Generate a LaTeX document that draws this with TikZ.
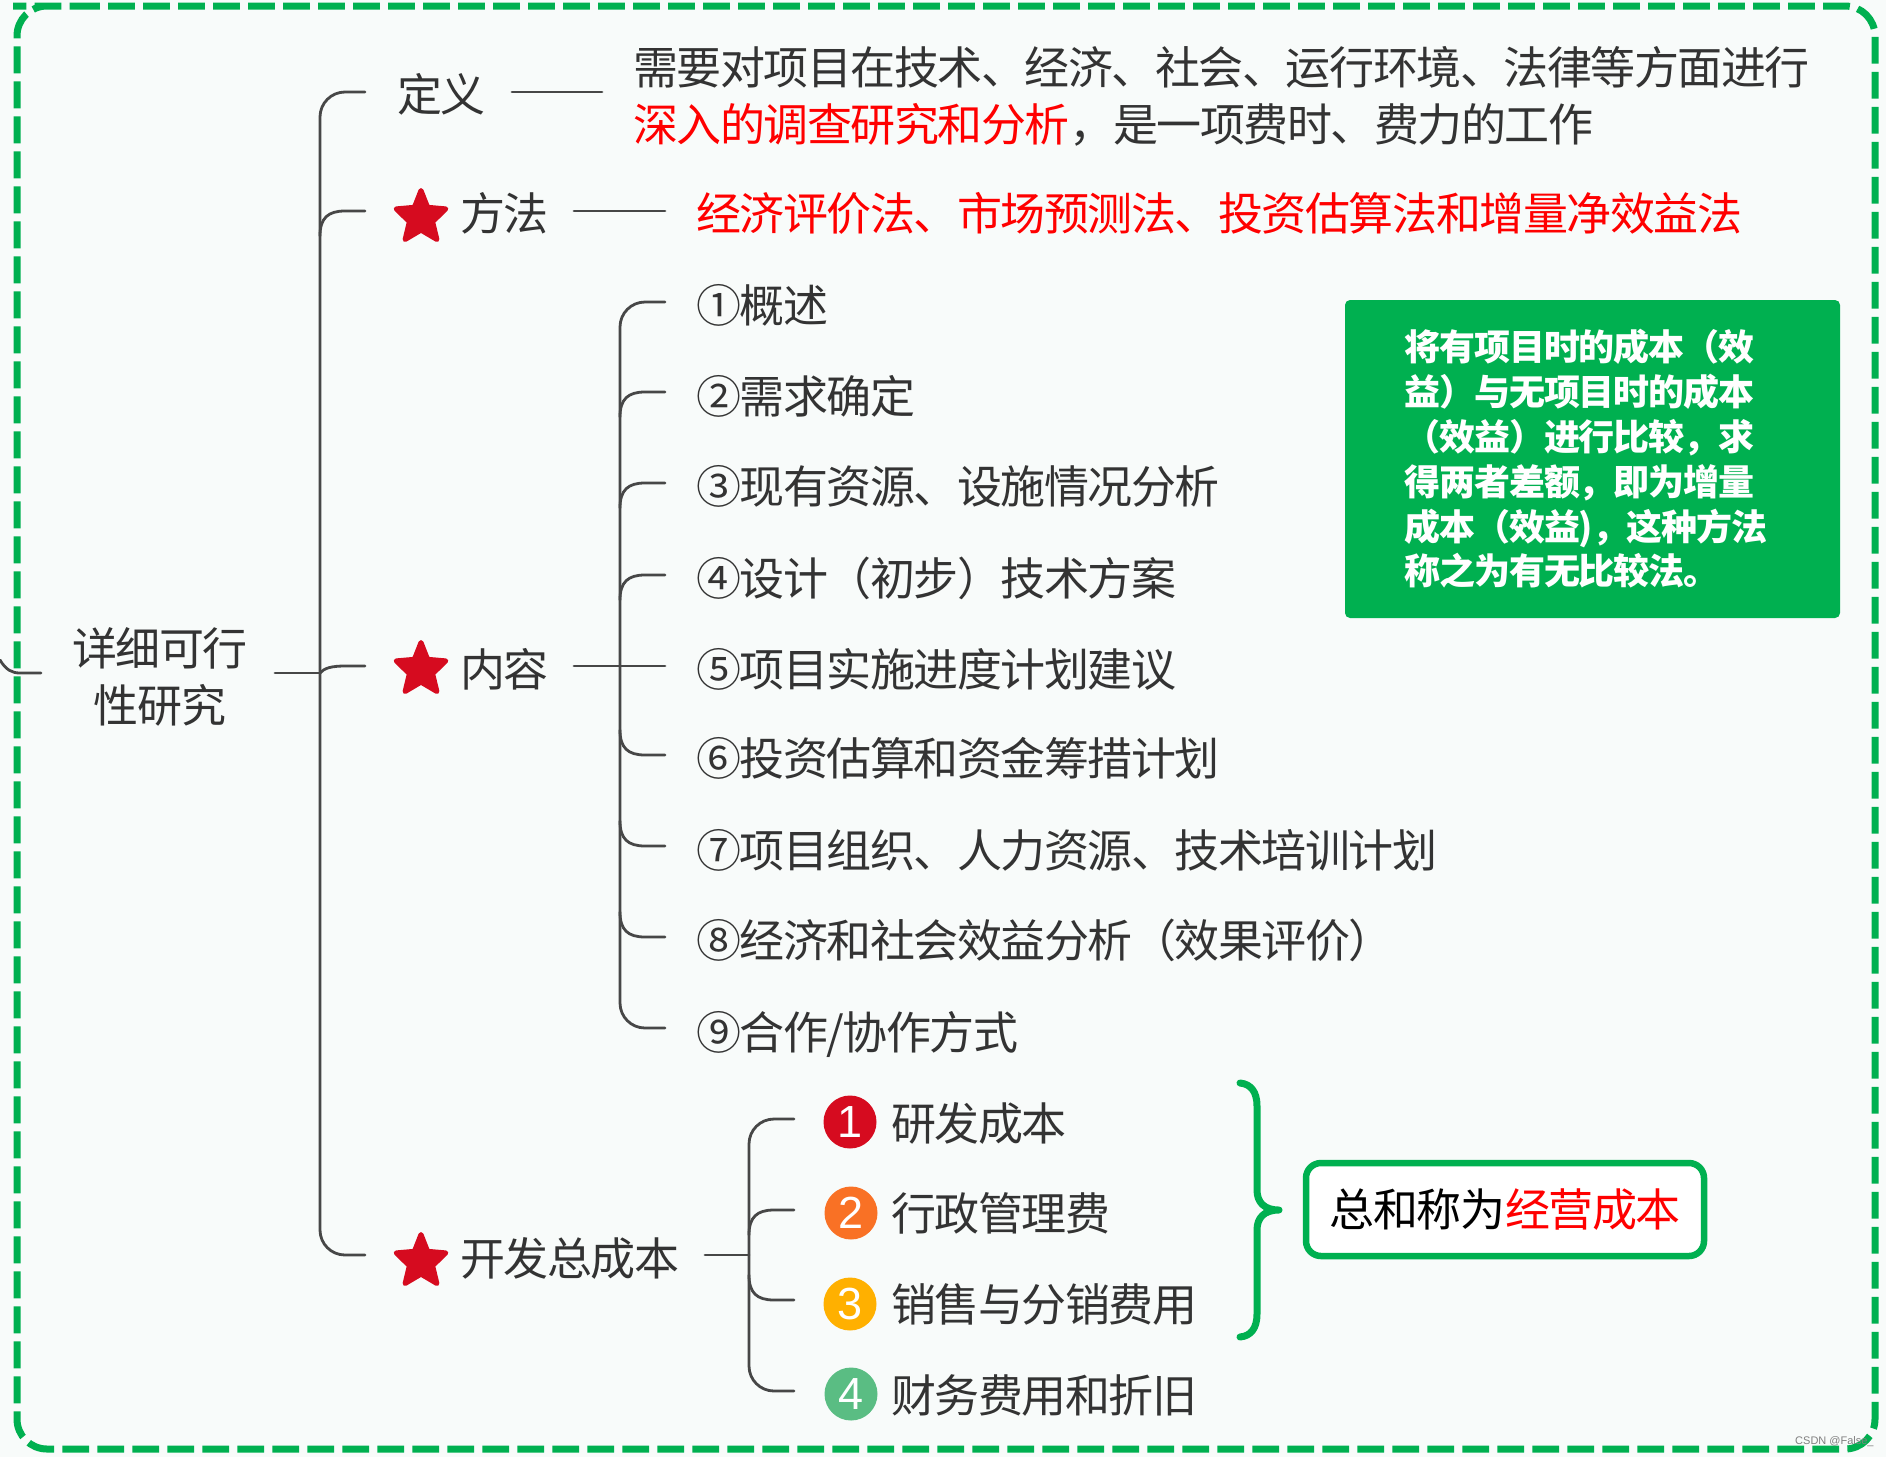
\documentclass[tikz,border=0pt]{standalone}
\usepackage{fontspec}
\setmainfont[LetterSpace=-3.3]{Noto Sans CJK SC}
\newfontfamily\wmfont{Liberation Sans}
\usetikzlibrary{calc}
\definecolor{bgc}{HTML}{F8FBFA}
\definecolor{grn}{HTML}{00B050}
\definecolor{ink}{HTML}{333333}
\definecolor{linec}{HTML}{474747}
\definecolor{starc}{HTML}{D60B1F}
\definecolor{cor}{HTML}{F97125}
\definecolor{cyl}{HTML}{FFB000}
\definecolor{cgr}{HTML}{5ABD83}
\newcommand{\bigf}{\fontsize{45pt}{57pt}\selectfont}
\newcommand{\smf}{\fontsize{36pt}{44.8pt}\selectfont}
\tikzset{
  x=1pt,y=-1pt,
  lbl/.style={anchor=west,inner sep=0pt,text height=39.6pt,text depth=5.4pt,font=\bigf,text=ink},
  multi/.style={inner sep=0pt,font=\bigf,text=ink},
  conn/.style={draw=linec,line width=2.8pt,line cap=round},
  num/.style={circle,inner sep=0pt,minimum size=53pt,text=white,font=\fontsize{45pt}{45pt}\selectfont\wmfont},
  starsym/.style={fill=starc,draw=starc,line width=5pt,line join=round},
}
\newcommand{\starat}[2]{%
  \filldraw[starsym] (#1,#2-24.5) -- ++(6.6,16.8) -- ++(18.2,1.6) -- ++(-13.2,12.8) -- ++(4.3,17.8) -- ++(-15.9,-9.4) -- ++(-15.9,9.4) -- ++(4.3,-17.8) -- ++(-13.2,-12.8) -- ++(18.2,-1.6) -- cycle;}
\begin{document}
\begin{tikzpicture}
\useasboundingbox (0,0) rectangle (1886,1457);
\fill[bgc] (0,0) rectangle (1886,1457);
% frame
\draw[grn,line width=7pt,rounded corners=30pt,dash pattern=on 26.8pt off 8.2pt] (43,6) -- (1875,6) -- (1875,1449) -- (17,1449) -- (17,6) -- cycle;

% root
\node[multi,align=center,anchor=center] (root) at (160,677) {详细可行\\性研究};
\coordinate (rootL) at (0,660);
\coordinate (rootLe) at (41,673);
\coordinate (rootR) at (275,673);
\coordinate (trunk) at (320,673);
\draw[conn] (rootL) .. controls (6,670) and (12,673) .. (20,673) -- (rootLe);
\draw[conn] (rootR) -- (trunk);

% level 1
\node[lbl] (def) at (397,94.5) {定义};
\node[lbl] (met) at (460,213.5) {方法};
\node[lbl] (con) at (460,669.5) {内容};
\node[lbl] (cost) at (460,1258.5) {开发总成本};
\coordinate (bDef) at (365,92);
\coordinate (bMet) at (365,211);
\coordinate (bCon) at (365,666);
\coordinate (bCost) at (365,1255);
\draw[conn,rounded corners=25pt] (bDef) -- (320,92) -- (320,1255) -- (bCost);
\draw[conn] (320,236) .. controls (320,218) and (328,211) .. (345,211) -- (bMet);
\draw[conn] (trunk) .. controls (324,668) and (332,666) .. (345,666) -- (bCon);

\starat{421}{215}
\starat{421}{667}
\starat{421}{1259}

% definition
\coordinate (dl) at (512,92); \coordinate (dr) at (602,92);
\draw[conn] (dl) -- (dr);
\node[multi,align=left,anchor=west] (deft) at (633,96) {需要对项目在技术、经济、社会、运行环境、法律等方面进行\\\textcolor{red}{深入的调查研究和分析}，是一项费时、费力的工作};

% method
\coordinate (ml) at (574,211); \coordinate (mr) at (665,211);
\draw[conn] (ml) -- (mr);
\node[lbl,text=red] (mett) at (696,213.5) {经济评价法、市场预测法、投资估算法和增量净效益法};

% content
\coordinate (cl) at (574,666); \coordinate (cr) at (620,666);
\draw[conn] (cl) -- (665,666);
\draw[conn,rounded corners=25pt] (665,302) -- (620,302) -- (620,1028) -- (665,1028);
\foreach \y in {392,483,575,755,846,937}{
  \ifnum\y<666
    \draw[conn] (620,\y+25) .. controls (620,\y+7) and (628,\y) .. (645,\y) -- (665,\y);
  \else
    \draw[conn] (620,\y-25) .. controls (620,\y-7) and (628,\y) .. (645,\y) -- (665,\y);
  \fi
}
\node[lbl] (i1) at (696,305.5) {①概述};
\node[lbl] (i2) at (696,396.5) {②需求确定};
\node[lbl] (i3) at (696,486.5) {③现有资源、设施情况分析};
\node[lbl] (i4) at (696,578.5) {④设计（初步）技术方案};
\node[lbl] (i5) at (696,669.5) {⑤项目实施进度计划建议};
\node[lbl] (i6) at (696,758.5) {⑥投资估算和资金筹措计划};
\node[lbl] (i7) at (696,850) {⑦项目组织、人力资源、技术培训计划};
\node[lbl] (i8) at (696,940.5) {⑧经济和社会效益分析（效果评价）};
\node[lbl] (i9) at (696,1032) {⑨合作/协作方式};

% green note
\node[fill=grn,rounded corners=5pt,minimum width=495pt,minimum height=318pt,inner sep=0pt] (note) at (1592.5,459) {};
\node[inner sep=0pt,align=left,anchor=center,font=\smf\bfseries,text=white] (notet) at (1586,459) {将有项目时的成本（效\\益）与无项目时的成本\\（效益）进行比较，求\\得两者差额，即为增量\\成本（效益)，这种方法\\称之为有无比较法。};

% cost
\coordinate (kl) at (705,1255); \coordinate (kr) at (749,1255);
\draw[conn] (kl) -- (kr);
\draw[conn,rounded corners=25pt] (794,1119) -- (749,1119) -- (749,1391) -- (794,1391);
\draw[conn] (749,1235) .. controls (749,1217) and (757,1210) .. (774,1210) -- (794,1210);
\draw[conn] (749,1275) .. controls (749,1293) and (757,1300) .. (774,1300) -- (794,1300);
\node[num,fill=starc] (n1) at (850,1122) {1};
\node[num,fill=cor] (n2) at (851,1213) {2};
\node[num,fill=cyl] (n3) at (850,1304) {3};
\node[num,fill=cgr] (n4) at (851,1394) {4};
\node[lbl] (c1) at (891,1123) {研发成本};
\node[lbl] (c2) at (891,1213.5) {行政管理费};
\node[lbl] (c3) at (891,1304) {销售与分销费用};
\node[lbl] (c4) at (891,1395) {财务费用和折旧};

% brace
\draw[grn,line width=7pt,line cap=round,line join=round] (1240,1083) .. controls (1251,1084) and (1257,1092) .. (1257,1106) -- (1257,1190) .. controls (1257,1202) and (1264,1210) .. (1279,1210) .. controls (1264,1210) and (1257,1218) .. (1257,1230) -- (1257,1314) .. controls (1257,1328) and (1251,1336) .. (1240,1337);

% sum box
\node[draw=grn,line width=6.5pt,fill=white,rounded corners=15pt,minimum width=398pt,minimum height=93pt,inner sep=0pt,font=\bigf,text=black] (sum) at (1505,1209.5) {总和称为\textcolor{red}{经营成本}};

% watermark
\node[inner sep=0pt,anchor=west,font=\fontsize{11pt}{11pt}\selectfont\wmfont,text=gray] (wm) at (1795,1442) {CSDN @False\_};
\end{tikzpicture}
\end{document}
